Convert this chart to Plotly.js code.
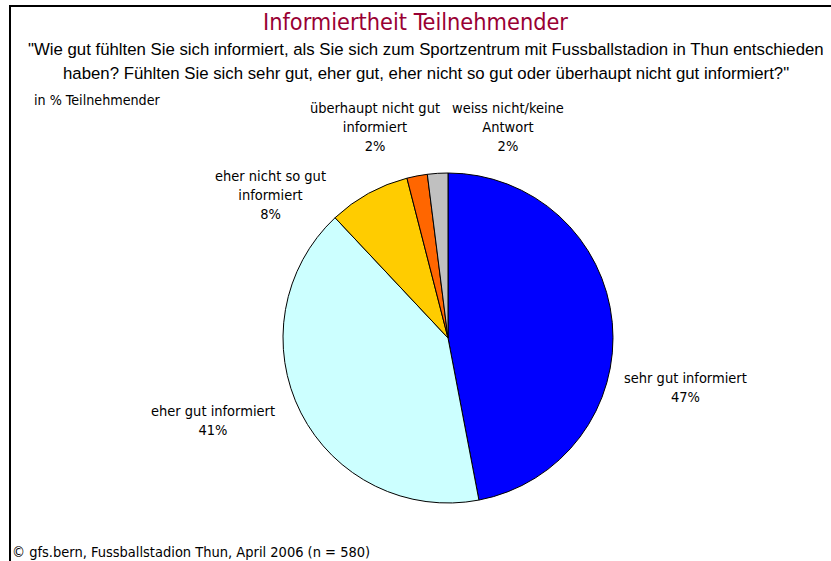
<!DOCTYPE html>
<html>
<head>
<meta charset="utf-8">
<script src="https://cdn.plot.ly/plotly-3.0.1.min.js"></script>
<style>html,body{margin:0;padding:0;background:#fff;}#chart{width:831px;height:561px;}</style>
</head>
<body>
<div id="chart"></div>
<script>
// Data
var categories = ["sehr gut informiert", "eher gut informiert", "eher nicht so gut informiert", "überhaupt nicht gut informiert", "weiss nicht/keine Antwort"];
var labelLines = ["sehr gut informiert", "eher gut informiert", "eher nicht so gut<br>informiert", "überhaupt nicht gut<br>informiert", "weiss nicht/keine<br>Antwort"];
var values = [47, 41, 8, 2, 2];
var colors = ["#0000FF", "#CCFFFF", "#FFCC00", "#FF6600", "#C0C0C0"];
var titleText = "Informiertheit Teilnehmender";
var subtitleLines = ["\"Wie gut fühlten Sie sich informiert, als Sie sich zum Sportzentrum mit Fussballstadion in Thun entschieden", "haben? Fühlten Sie sich sehr gut, eher gut, eher nicht so gut oder überhaupt nicht gut informiert?\""];
var unitText = "in % Teilnehmender";
var sourceText = "© gfs.bern, Fussballstadion Thun, April 2006 (n = 580)";

var W = 831, H = 561;
function px(x){return x / W;}
function py(y){return 1 - y / H;}

var labFont = "DejaVu Sans Condensed, Noto Sans, sans-serif";
// label anchor centres (layout)
var labelPos = [[685, 387], [213, 420], [270, 195], [375, 127], [508, 127]];

var annotations = [];
annotations.push({text: titleText, x: px(415), y: py(22), xref: 'paper', yref: 'paper', showarrow: false,
  xanchor: 'center', yanchor: 'middle', font: {family: labFont, size: 23.3, color: '#990033'}});
annotations.push({text: subtitleLines[0], x: px(426), y: py(50), xref: 'paper', yref: 'paper', showarrow: false,
  xanchor: 'center', yanchor: 'middle', font: {family: 'Liberation Sans, Arial, sans-serif', size: 16.8, color: '#000'}});
annotations.push({text: subtitleLines[1], x: px(426), y: py(73), xref: 'paper', yref: 'paper', showarrow: false,
  xanchor: 'center', yanchor: 'middle', font: {family: 'Liberation Sans, Arial, sans-serif', size: 16.8, color: '#000'}});
annotations.push({text: unitText, x: px(32), y: py(100), xref: 'paper', yref: 'paper', showarrow: false,
  xanchor: 'left', yanchor: 'middle', font: {family: labFont, size: 14.2, color: '#000'}});
annotations.push({text: sourceText, x: px(10), y: py(552), xref: 'paper', yref: 'paper', showarrow: false,
  xanchor: 'left', yanchor: 'middle', font: {family: labFont, size: 14.5, color: '#000'}});
for (var i = 0; i < categories.length; i++) {
  annotations.push({text: labelLines[i] + '<br>' + values[i] + '%', x: px(labelPos[i][0]), y: py(labelPos[i][1]),
    xref: 'paper', yref: 'paper', showarrow: false, xanchor: 'center', yanchor: 'middle', align: 'center',
    font: {family: labFont, size: 14.5, color: '#000'}});
}

var trace = {
  type: 'pie',
  labels: categories,
  values: values,
  sort: false,
  direction: 'clockwise',
  rotation: 0,
  textinfo: 'none',
  hoverinfo: 'label+percent',
  marker: {colors: colors, line: {color: '#000', width: 1}},
  domain: {x: [px(283), px(613)], y: [py(503), py(173)]}
};

var layout = {
  width: W, height: H,
  margin: {l: 0, r: 0, t: 0, b: 0},
  paper_bgcolor: '#fff',
  showlegend: false,
  annotations: annotations,
  shapes: [
    {type: 'line', xref: 'paper', yref: 'paper', x0: px(9), x1: 1, y0: py(6), y1: py(6), line: {color: '#000', width: 2}},
    {type: 'line', xref: 'paper', yref: 'paper', x0: px(10), x1: px(10), y0: py(6), y1: 0, line: {color: '#000', width: 2}}
  ]
};

Plotly.newPlot('chart', [trace], layout, {displayModeBar: false, staticPlot: true});
</script>
</body>
</html>
